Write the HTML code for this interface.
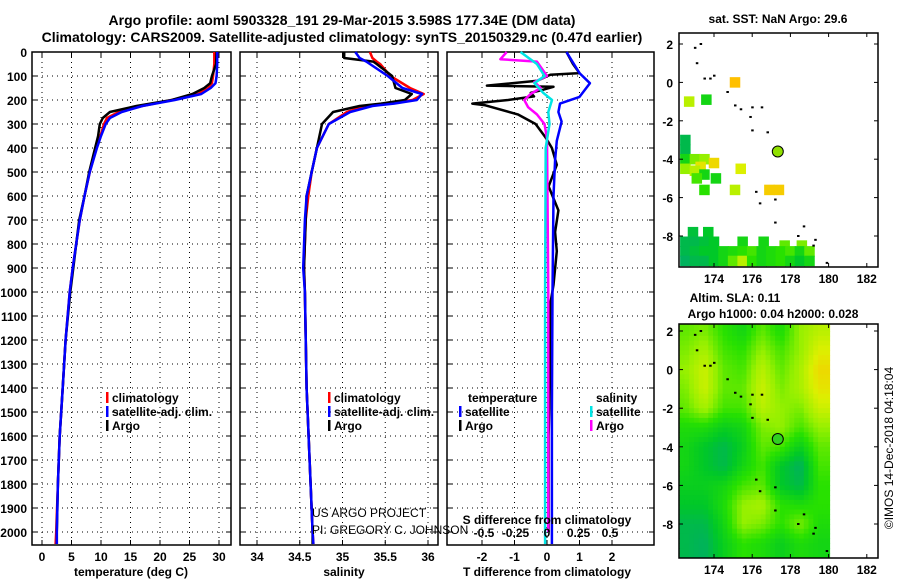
<!DOCTYPE html>
<html><head><meta charset="utf-8"><title>Argo profile</title>
<style>
html,body{margin:0;padding:0;background:#fff;}
svg{display:block;font-family:"Liberation Sans",Arial,sans-serif;}
.b{font-weight:bold;}
</style></head>
<body>
<svg id="chart" width="900" height="580" viewBox="0 0 900 580" xmlns="http://www.w3.org/2000/svg">
<text x="342" y="25" text-anchor="middle" class="b" font-size="14">Argo profile: aoml 5903328_191 29-Mar-2015 3.598S 177.34E (DM data)</text>
<text x="342" y="42" text-anchor="middle" class="b" font-size="14">Climatology: CARS2009. Satellite-adjusted climatology: synTS_20150329.nc (0.47d earlier)</text>
<g id="g"></g>
</svg>
<script>
// ---- data ----
const depthTicks = [0,100,200,300,400,500,600,700,800,900,1000,1100,1200,1300,1400,1500,1600,1700,1800,1900,2000];
const tempTicks = [0,5,10,15,20,25,30];
const salTicks = [34,34.5,35,35.5,36];
const dTTicks = [-2,-1,0,1,2];
const dSTicks = [-0.5,-0.25,0,0.25,0.5];
const dSTickLabels = ["-0.5","-0.25","0","0.25","0.5"];

const tDepth = [0,50,100,130,150,175,200,225,250,275,300,350,400,500,600,700,800,900,1000,1200,1400,1600,1800,2000,2050];
const tClim = [29.2,29.2,29.0,28.8,28.2,26.5,22,17,13,11,10.5,9.9,9.2,8.1,7.2,6.4,5.8,5.2,4.7,4.0,3.5,3.0,2.7,2.4,2.3];
const tSat  = [29.7,29.7,29.6,29.4,28.6,27,22.5,17,13.5,11.5,10.8,10.0,9.3,8.1,7.2,6.4,5.8,5.2,4.7,4.0,3.5,3.0,2.7,2.5,2.5];
const tArgo = [29.6,29.5,28.8,28.5,27.5,25.5,22,16,11.5,10.3,9.8,9.5,9.0,8.0,7.2,6.3,5.8,5.3,4.8,4.0,3.5,3.0,2.7,2.5,2.5];

const sDepth = [0,25,40,50,100,150,175,200,215,225,250,300,400,500,600,700,900,1000,1400,2000,2050];
const sClim = [35.32,35.35,35.40,35.44,35.56,35.79,35.95,35.82,35.55,35.28,35.05,34.84,34.70,34.64,34.60,34.57,34.55,34.56,34.58,34.65,34.66];
const sSat  = [35.15,35.20,35.28,35.32,35.53,35.70,35.93,35.87,35.6,35.35,35.09,34.84,34.70,34.64,34.58,34.56,34.54,34.56,34.58,34.65,34.66];
const sArgo = [35.02,35.02,35.36,35.40,35.58,35.62,35.81,35.73,35.45,35.2,34.89,34.76,34.70,34.64,34.58,34.57,34.55,34.56,34.58,34.65,34.65];

const dTSatDepth = [0,88,130,187,215,250,290,370,450,600,1000,1500,2050];
const dTSat = [0.6,1.0,1.32,1.0,0.4,0.35,0.45,0.3,0.25,0.2,0.17,0.15,0.15];
const dTArgoDepth = [0,50,88,95,120,140,145,160,170,185,200,215,222,260,300,355,400,470,560,660,750,830,970,1050,1300,1600,2000];
const dTArgo = [0.6,0.8,1.0,0.1,-0.3,-1.85,0.2,-0.2,-0.5,-0.4,-1.2,-2.3,-1.9,-0.9,-0.35,-0.05,0.15,0.3,0.05,0.35,0.25,0.3,0.2,0.1,0.1,0.05,0.05];
const dSArgoDepth = [0,30,40,100,125,150,175,200,230,260,300,360,1000,2000];
const dSArgo = [-0.32,-0.37,-0.08,0,-0.1,-0.05,-0.13,-0.18,-0.15,-0.08,-0.02,0,0.01,0.01];
const dSSatDepth = [0,50,100,130,170,200,250,300,400,1000,2050];
const dSSat = [-0.21,-0.08,-0.02,-0.1,-0.03,0.04,0.01,0.02,-0.01,-0.015,-0.015];

const lonTicks = [174,176,178,180,182];
const latTicks = [2,0,-2,-4,-6,-8];
// SST cells: [lon, lat, value 0..1]
const sstCells = [[175.1,0,1],[172.7,-1,0.7],[173.6,-0.9,0.3],
[172.5,-3.0,0.1],[172.5,-3.5,0.1],[172.5,-4.0,0.3],[173.0,-4.0,0.55],[173.5,-4.0,0.6],[174.0,-4.2,0.9],[173.3,-4.4,0.85],[172.5,-4.5,0.6],[173.0,-4.6,0.7],[173.5,-4.8,0.3],[174.1,-5.0,0.3],[173.1,-5.0,0.45],[173.5,-5.6,0.4],[175.1,-5.6,0.7],[175.4,-4.5,0.8],[176.9,-5.6,0.95],[177.4,-5.6,0.95],
[172.9,-7.8,0.15],[173.7,-7.8,0.2],[172.5,-8.3,0.1],[173.0,-8.3,0.1],[173.5,-8.3,0.15],[174.0,-8.3,0.2],[175.5,-8.3,0.3],[176.6,-8.3,0.3],[177.7,-8.5,0.5],[178.6,-8.5,0.55]];
const sstRowLons = [172.5,173,173.5,174,174.5,175,175.5,176,176.5,177,177.5,178,178.5,179];
const sstRowM88 = [0.1,0.15,0.2,0.2,0.3,0.35,0.4,0.45,0.3,0.35,0.4,0.45,0.3,0.5];
const sstRowM93 = [0.05,0.1,0.1,0.2,0.3,0.5,0.7,0.4,0.3,0.35,0.4,0.3,0.2,0.3];
// Altimetry grid (lon 172.5..179.5, lat 2..-9)
const altLons = [172.5,173.5,174.5,175.5,176.5,177.5,178.5,179.5];
const altLats = [2,1,0,-1,-2,-3,-4,-5,-6,-7,-8,-9];
const altGrid = [
[0.5,0.55,0.4,0.3,0.5,0.35,0.6,0.7],
[0.55,0.65,0.45,0.4,0.6,0.45,0.6,0.8],
[0.6,0.75,0.5,0.45,0.7,0.5,0.65,0.9],
[0.55,0.75,0.5,0.5,0.75,0.55,0.65,0.85],
[0.5,0.65,0.45,0.45,0.7,0.6,0.55,0.75],
[0.35,0.35,0.25,0.3,0.55,0.6,0.45,0.6],
[0.3,0.2,0.1,0.25,0.5,0.45,0.25,0.5],
[0.3,0.2,0.1,0.3,0.45,0.2,0.05,0.45],
[0.25,0.25,0.3,0.45,0.5,0.2,0.1,0.4],
[0.2,0.2,0.35,0.6,0.65,0.4,0.35,0.4],
[0.1,0.1,0.3,0.6,0.55,0.4,0.55,0.35],
[0.1,0.05,0.25,0.4,0.35,0.25,0.35,0.3]];
const islands = [[173.0,1.8],[173.3,2.0],[173.1,1.0],[173.5,0.2],[173.8,0.2],[174.0,0.35],[174.7,-0.5],[175.1,-1.2],[175.4,-1.4],[175.9,-1.8],[176.0,-1.3],[176.5,-1.3],[176.0,-2.5],[176.8,-2.6],[176.2,-5.7],[176.4,-6.3],[177.2,-6.1],[177.2,-7.3],[178.4,-8.0],[178.7,-7.5],[179.2,-8.5],[179.3,-8.2],[179.9,-9.4]];
const argoPos = [177.34,-3.598];

// ---- scales ----
const Y = d => 52 + d*0.24;
const xT = t => 42 + t*5.9;
const xS = s => 257 + (s-34)*85.5;
const xdT = t => 547 + t*32.5;
const xdS = s => 547 + s*126;
const lonX = l => 714 + (l-174)*19.1;
const latY1 = l => 44 + (2-l)*19.2;
const latY2 = l => 331 + (2-l)*19.3;

const NS="http://www.w3.org/2000/svg";
const G=document.getElementById('g');
function mk(tag,attrs,parent){const e=document.createElementNS(NS,tag);for(const k in attrs)e.setAttribute(k,attrs[k]);(parent||G).appendChild(e);return e;}
function txt(x,y,s,size,anchor,bold,fill){const e=mk('text',{x:x,y:y,'font-size':size,'text-anchor':anchor||'start',fill:fill||'#000'});if(bold)e.setAttribute('font-weight','bold');e.textContent=s;return e;}

const panels=[
 {x0:32,x1:231,ticks:tempTicks,fx:xT,lab:tempTicks.map(String),title:'temperature (deg C)',tx:131,name:'temperature'},
 {x0:240,x1:438,ticks:salTicks,fx:xS,lab:salTicks.map(String),title:'salinity',tx:344,name:'salinity'},
 {x0:447,x1:654,ticks:dTTicks,fx:xdT,lab:dTTicks.map(String),title:'T difference from climatology',tx:547,name:'difference'}];
const top0=52,bot0=545;
panels.forEach((p,i)=>{
  const fr=mk('rect',{x:p.x0,y:top0,width:p.x1-p.x0,height:bot0-top0,fill:'none',stroke:'#000','stroke-width':1.5});
  
  
  p.ticks.forEach((t,j)=>{
    const x=p.fx(t);
    const gl=mk('line',{x1:x,x2:x,y1:top0,y2:bot0,stroke:'#000','stroke-width':1,'stroke-dasharray':'1,4'});
    
    
    mk('line',{x1:x,x2:x,y1:bot0,y2:bot0-5,stroke:'#000'});
    mk('line',{x1:x,x2:x,y1:top0,y2:top0+5,stroke:'#000'});
    const tl=txt(x,561,p.lab[j],12,'middle',true);
    
    
  });
  depthTicks.forEach(d=>{
    const y=Y(d);
    const gl=mk('line',{x1:p.x0,x2:p.x1,y1:y,y2:y,stroke:'#000','stroke-width':1,'stroke-dasharray':'1,4'});
    
    
    mk('line',{x1:p.x0,x2:p.x0+5,y1:y,y2:y,stroke:'#000'});
    mk('line',{x1:p.x1,x2:p.x1-5,y1:y,y2:y,stroke:'#000'});
  });
  const at=txt(p.tx,576,p.title,12,'middle',true);
  
  
});
depthTicks.forEach(d=>{
  const t=txt(27,Y(d)+5,String(d),12,'end',true);
  
  
});

function line(depths,vals,fx,color,name,w){
  const pts=depths.map((d,i)=>fx(vals[i]).toFixed(1)+','+Y(d).toFixed(1)).join(' ');
  const e=mk('polyline',{points:pts,fill:'none',stroke:color,'stroke-width':w||2.5,'stroke-linejoin':'round'});
  
  
}
line(tDepth,tClim,xT,'#ff0000','temperature-climatology-line');
line(tDepth,tArgo,xT,'#000','temperature-argo-line');
line(tDepth,tSat,xT,'#0000ff','temperature-satellite-line');
line(sDepth,sClim,xS,'#ff0000','salinity-climatology-line');
line(sDepth,sArgo,xS,'#000','salinity-argo-line');
line(sDepth,sSat,xS,'#0000ff','salinity-satellite-line');
line(dTArgoDepth,dTArgo,xdT,'#000','t-diff-argo-line');
line(dTSatDepth,dTSat,xdT,'#0000ff','t-diff-satellite-line');
line(dSArgoDepth,dSArgo,xdS,'#ff00ff','s-diff-argo-line');
line(dSSatDepth,dSSat,xdS,'#00e5e5','s-diff-satellite-line');

// legends
function legItem(x,y,color,label,name){
  const m=mk('rect',{x:x,y:y-10,width:2.5,height:11,fill:color});
  
  
  const t=txt(x+6,y,label,12,'start',true);
  
  
}
[[106,'temp'],[328,'sal']].forEach(([x,n])=>{
  legItem(x,402,'#ff0000','climatology',n+'-legend-climatology');
  legItem(x,416,'#0000ff','satellite-adj. clim.',n+'-legend-satellite');
  legItem(x,430,'#000','Argo',n+'-legend-argo');
});
let lt=txt(468,402,'temperature',12,'start',true);


legItem(459,416,'#0000ff','satellite','diff-legend-t-satellite');
legItem(459,430,'#000','Argo','diff-legend-t-argo');
lt=txt(596,402,'salinity',12,'start',true);


legItem(590,416,'#00e5e5','satellite','diff-legend-s-satellite');
legItem(590,430,'#ff00ff','Argo','diff-legend-s-argo');

dSTicks.forEach((s,i)=>{
  const t=txt(xdS(s),537,dSTickLabels[i],12,'middle',true);
  
  
});
lt=txt(547,524,'S difference from climatology',12,'middle',true);


lt=txt(312,517,'US ARGO PROJECT',12,'start',false);


lt=txt(312,534,'PI: GREGORY C. JOHNSON',12,'start',false);



// ---- maps ----
function cmap(v){
  const st=[[0,[0,170,110]],[0.2,[0,200,40]],[0.4,[40,225,0]],[0.6,[150,240,0]],[0.8,[220,240,0]],[1,[255,192,0]]];
  v=Math.max(0,Math.min(1,v));
  for(let i=1;i<st.length;i++){if(v<=st[i][0]){const a=st[i-1],b=st[i],f=(v-a[0])/(b[0]-a[0]);const c=a[1].map((x,k)=>Math.round(x+(b[1][k]-x)*f));return 'rgb('+c.join(',')+')';}}
  return 'rgb(255,192,0)';
}
const mx0=679,mx1=878;
function mapFrame(y0,y1,fy,name){
  const fr=mk('rect',{x:mx0,y:y0,width:mx1-mx0,height:y1-y0,fill:'none',stroke:'#000','stroke-width':1.5});
  
  
  lonTicks.forEach(l=>{
    const x=lonX(l);
    mk('line',{x1:x,x2:x,y1:y1,y2:y1-4,stroke:'#000'});
    mk('line',{x1:x,x2:x,y1:y0,y2:y0+4,stroke:'#000'});
    const t=txt(x,y1+16,String(l),12,'middle',true);
    
    
  });
  latTicks.forEach(l=>{
    const y=fy(l);
    mk('line',{x1:mx0,x2:mx0+4,y1:y,y2:y,stroke:'#000'});
    mk('line',{x1:mx1,x2:mx1-4,y1:y,y2:y,stroke:'#000'});
    const t=txt(673,y+5,String(l),12,'end',true);
    
    
  });
}
const cw=0.55*19.1;
function sstCell(lon,lat,v){
  const r=mk('rect',{x:lonX(lon)-cw/2,y:latY1(lat)-cw/2,width:cw,height:cw,fill:cmap(v)});
  
  
}
sstCells.forEach(c=>sstCell(c[0],c[1],c[2]));
sstRowLons.forEach((l,i)=>{sstCell(l,-8.8,sstRowM88[i]);sstCell(l,-9.3,sstRowM93[i]);});

function altVal(lon,lat){
  let fi=(lon-altLons[0]); fi=Math.max(0,Math.min(altLons.length-1.0001,fi));
  let fj=(altLats[0]-lat); fj=Math.max(0,Math.min(altLats.length-1.0001,fj));
  const i=Math.floor(fi),j=Math.floor(fj),a=fi-i,b=fj-j;
  const g=altGrid;
  return g[j][i]*(1-a)*(1-b)+g[j][i+1]*a*(1-b)+g[j+1][i]*(1-a)*b+g[j+1][i+1]*a*b;
}
const step=0.25;
for(let lat=2.75;lat>-9.75;lat-=step){
  for(let lon=172.2;lon<180.05;lon+=step){
    const x=Math.max(mx0,lonX(lon)), x2=Math.min(lonX(180.05),lonX(lon+step));
    const y=Math.max(324,latY2(lat)), y2=Math.min(558,latY2(lat-step));
    if(x2<=x||y2<=y)continue;
    const r=mk('rect',{x:x.toFixed(1),y:y.toFixed(1),width:(x2-x+0.6).toFixed(1),height:(y2-y+0.6).toFixed(1),fill:cmap(altVal(lon+step/2,lat-step/2))});
    
    
  }
}
[latY1,latY2].forEach((fy,k)=>{
  islands.forEach(p=>{
    const r=mk('rect',{x:lonX(p[0])-1,y:fy(p[1])-1,width:2.5,height:2,fill:'#000'});
    
    
  });
  const c=mk('circle',{cx:lonX(argoPos[0]),cy:fy(argoPos[1]),r:5.5,fill:k?'#30d020':'#90e000',stroke:'#000','stroke-width':1});
  
  
});
mapFrame(33,267,latY1,'sst-map');
mapFrame(324,558,latY2,'sla-map');
lt=txt(778,23,'sat. SST: NaN Argo: 29.6',12,'middle',true);


lt=txt(735,302,'Altim. SLA: 0.11',12,'middle',true);


lt=txt(773,318,'Argo h1000: 0.04 h2000: 0.028',12,'middle',true);


lt=txt(0,0,'©IMOS 14-Dec-2018 04:18:04',12,'middle',false);
lt.setAttribute('transform','translate(893,448) rotate(-90)');


</script>
</body></html>
